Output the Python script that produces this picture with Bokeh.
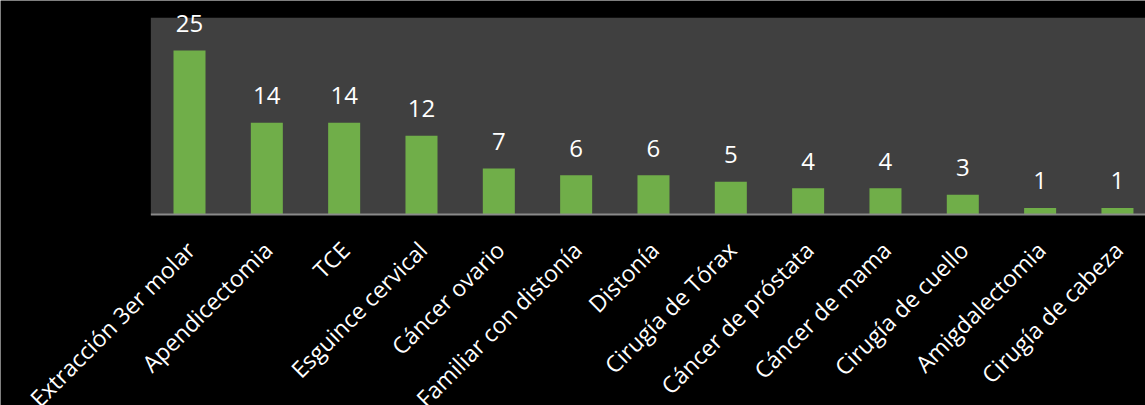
import math
from bokeh.plotting import figure
from bokeh.models import ColumnDataSource, Range1d, Label, BoxAnnotation
from bokeh.embed import file_html
from bokeh.resources import INLINE

categories = ["Extracción 3er molar", "Apendicectomia", "TCE", "Esguince cervical",
              "Cáncer ovario", "Familiar con distonía", "Distonía", "Cirugía de Tórax",
              "Cáncer de próstata", "Cáncer de mama", "Cirugía de cuello",
              "Amigdalectomia", "Cirugía de cabeza"]
counts = [25, 14, 14, 12, 7, 6, 6, 5, 4, 4, 3, 1, 1]

PX_X = 77.33   # pixels per category
PX_Y = 6.56    # pixels per count unit
Y_MAX = 30     # top of the plot area

xs = list(range(len(categories)))
src = ColumnDataSource(dict(x=xs, top=counts))

x_left = -189 / PX_X
x_right = (1145 - 189) / PX_X

# whole canvas is the frame; the plot area is drawn as a box inside it
p = figure(width=1145, height=405, output_backend="svg", toolbar_location=None,
           x_range=Range1d(x_left, x_right),
           y_range=Range1d(-(405 - 214) / PX_Y, 214 / PX_Y))
p.min_border = 0
p.border_fill_color = "black"
p.background_fill_color = "black"
p.outline_line_color = None
p.grid.visible = False
p.axis.visible = False

p.add_layout(BoxAnnotation(left=-0.5, right=x_right, bottom=0, top=Y_MAX,
                           fill_color="#404040", fill_alpha=1, line_color=None,
                           level="underlay"))

p.vbar(x="x", top="top", width=0.414, bottom=0, source=src,
       fill_color="#70ae49", line_color=None)

# category axis line
p.segment(x0=[-0.5], x1=[x_right], y0=[0], y1=[0], line_color="#8a8a8a", line_width=2)

for x, c, name in zip(xs, counts, categories):
    p.add_layout(Label(x=x, y=c + 27 / PX_Y, text=str(c), text_align="center",
                       text_baseline="alphabetic", text_color="white",
                       text_font="Open Sans", text_font_size="24px"))
    p.add_layout(Label(x=x + 1 / PX_X, y=-31 / PX_Y, text=name, text_align="right",
                       text_baseline="middle", angle=math.pi / 4, text_color="white",
                       text_font="Open Sans", text_font_size="23px"))

open("out.html", "w").write(file_html(p, INLINE))
